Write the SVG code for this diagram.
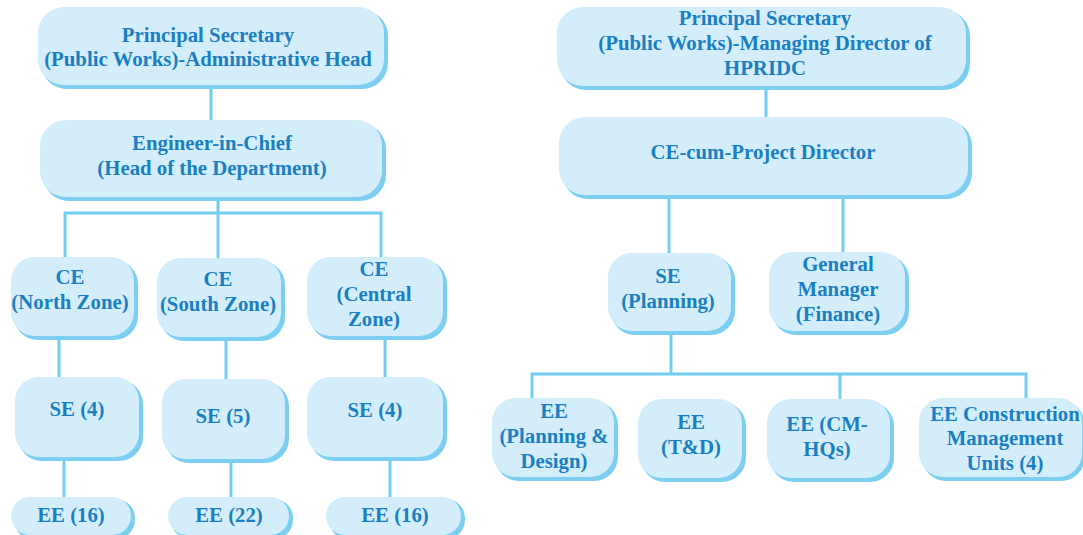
<svg xmlns="http://www.w3.org/2000/svg" width="1083" height="535" viewBox="0 0 1083 535">
  <style>
    .sh { fill: #7dcff2; }
    .bx { fill: #d3eefa; }
    .t { font-family: "Liberation Serif", "Times New Roman", serif; font-weight: 700; font-size: 20.8px; fill: #1a7fc2; text-anchor: middle; }
    .ln { stroke: #72cdf2; stroke-width: 3; fill: none; }
  </style>

  <!-- connectors -->
  <g id="connectors" class="ln">
    <line x1="211" y1="86" x2="211" y2="121"/>
    <line x1="218" y1="198" x2="218" y2="259"/>
    <polyline points="65,259 65,213 381,213 381,259"/>
    <line x1="59" y1="337" x2="59" y2="378"/>
    <line x1="226" y1="339" x2="226" y2="380"/>
    <line x1="385" y1="338" x2="385" y2="378"/>
    <line x1="64" y1="458" x2="64" y2="498"/>
    <line x1="231" y1="460" x2="231" y2="498"/>
    <line x1="390" y1="458" x2="390" y2="498"/>

    <line x1="766" y1="88" x2="766" y2="118"/>
    <line x1="669" y1="197" x2="669" y2="254"/>
    <line x1="843" y1="197" x2="843" y2="253"/>
    <line x1="671" y1="332" x2="671" y2="374"/>
    <polyline points="532,399 532,374 1026,374 1026,421"/>
    <line x1="840" y1="374" x2="840" y2="400"/>
  </g>

  <!-- left chart -->
  <g id="ps-admin">
    <rect class="sh" x="41" y="10" width="347" height="79" rx="26"/>
    <rect class="bx" x="38" y="7" width="346" height="78" rx="26"/>
    <text class="t" x="208" y="42">Principal Secretary</text>
    <text class="t" x="208" y="66">(Public Works)-Administrative Head</text>
  </g>
  <g id="eic">
    <rect class="sh" x="43" y="123" width="343" height="78" rx="26"/>
    <rect class="bx" x="40" y="120" width="342" height="77" rx="26"/>
    <text class="t" x="212" y="150">Engineer-in-Chief</text>
    <text class="t" x="212" y="175">(Head of the Department)</text>
  </g>
  <g id="ce-north">
    <rect class="sh" x="14" y="260" width="124" height="80" rx="24"/>
    <rect class="bx" x="11" y="257" width="123" height="79" rx="24"/>
    <text class="t" x="70" y="284">CE</text>
    <text class="t" x="70" y="309">(North Zone)</text>
  </g>
  <g id="ce-south">
    <rect class="sh" x="160" y="261" width="125" height="80" rx="24"/>
    <rect class="bx" x="157" y="258" width="124" height="79" rx="24"/>
    <text class="t" x="218" y="286">CE</text>
    <text class="t" x="218" y="311">(South Zone)</text>
  </g>
  <g id="ce-central">
    <rect class="sh" x="310" y="260" width="137" height="80" rx="24"/>
    <rect class="bx" x="307" y="257" width="136" height="79" rx="24"/>
    <text class="t" x="374" y="276">CE</text>
    <text class="t" x="374" y="301">(Central</text>
    <text class="t" x="374" y="326">Zone)</text>
  </g>
  <g id="se-north">
    <rect class="sh" x="18" y="380" width="125" height="81" rx="24"/>
    <rect class="bx" x="15" y="377" width="124" height="80" rx="24"/>
    <text class="t" x="77" y="416">SE (4)</text>
  </g>
  <g id="se-south">
    <rect class="sh" x="165" y="382" width="124" height="81" rx="24"/>
    <rect class="bx" x="162" y="379" width="123" height="80" rx="24"/>
    <text class="t" x="223" y="423">SE (5)</text>
  </g>
  <g id="se-central">
    <rect class="sh" x="310" y="380" width="137" height="81" rx="24"/>
    <rect class="bx" x="307" y="377" width="136" height="80" rx="24"/>
    <text class="t" x="375" y="417">SE (4)</text>
  </g>
  <g id="ee-north">
    <rect class="sh" x="14" y="499" width="121" height="40" rx="19"/>
    <rect class="bx" x="11" y="497" width="120" height="38" rx="19"/>
    <text class="t" x="71" y="522">EE (16)</text>
  </g>
  <g id="ee-south">
    <rect class="sh" x="171" y="499" width="122" height="40" rx="19"/>
    <rect class="bx" x="168" y="497" width="121" height="38" rx="19"/>
    <text class="t" x="229" y="522">EE (22)</text>
  </g>
  <g id="ee-central">
    <rect class="sh" x="329" y="499" width="136" height="40" rx="19"/>
    <rect class="bx" x="326" y="497" width="135" height="38" rx="19"/>
    <text class="t" x="395" y="522">EE (16)</text>
  </g>

  <!-- right chart -->
  <g id="ps-md">
    <rect class="sh" x="560" y="10" width="410" height="80" rx="26"/>
    <rect class="bx" x="557" y="7" width="409" height="79" rx="26"/>
    <text class="t" x="765" y="25">Principal Secretary</text>
    <text class="t" x="765" y="50">(Public Works)-Managing Director of</text>
    <text class="t" x="765" y="75">HPRIDC</text>
  </g>
  <g id="ce-pd">
    <rect class="sh" x="562" y="120" width="410" height="79" rx="26"/>
    <rect class="bx" x="559" y="117" width="409" height="78" rx="26"/>
    <text class="t" x="763" y="159">CE-cum-Project Director</text>
  </g>
  <g id="se-planning">
    <rect class="sh" x="611" y="256" width="124" height="79" rx="24"/>
    <rect class="bx" x="608" y="253" width="123" height="78" rx="24"/>
    <text class="t" x="668" y="283">SE</text>
    <text class="t" x="668" y="308">(Planning)</text>
  </g>
  <g id="gm-finance">
    <rect class="sh" x="772" y="255" width="137" height="80" rx="24"/>
    <rect class="bx" x="769" y="252" width="136" height="79" rx="24"/>
    <text class="t" x="838" y="271">General</text>
    <text class="t" x="838" y="296">Manager</text>
    <text class="t" x="838" y="321">(Finance)</text>
  </g>
  <g id="ee-pd">
    <rect class="sh" x="495" y="401" width="123" height="80" rx="24"/>
    <rect class="bx" x="492" y="398" width="122" height="79" rx="24"/>
    <text class="t" x="554" y="418">EE</text>
    <text class="t" x="554" y="443">(Planning &amp;</text>
    <text class="t" x="554" y="468">Design)</text>
  </g>
  <g id="ee-td">
    <rect class="sh" x="641" y="402" width="105" height="80" rx="24"/>
    <rect class="bx" x="638" y="399" width="104" height="79" rx="24"/>
    <text class="t" x="691" y="429">EE</text>
    <text class="t" x="691" y="454">(T&amp;D)</text>
  </g>
  <g id="ee-cmhq">
    <rect class="sh" x="770" y="402" width="124" height="80" rx="24"/>
    <rect class="bx" x="767" y="399" width="123" height="79" rx="24"/>
    <text class="t" x="827" y="431">EE (CM-</text>
    <text class="t" x="827" y="456">HQs)</text>
  </g>
  <g id="ee-cmu">
    <rect class="sh" x="922" y="401" width="163" height="80" rx="24"/>
    <rect class="bx" x="919" y="398" width="163" height="79" rx="24"/>
    <text class="t" x="1005" y="421">EE Construction</text>
    <text class="t" x="1005" y="445">Management</text>
    <text class="t" x="1005" y="470">Units (4)</text>
  </g>
</svg>
